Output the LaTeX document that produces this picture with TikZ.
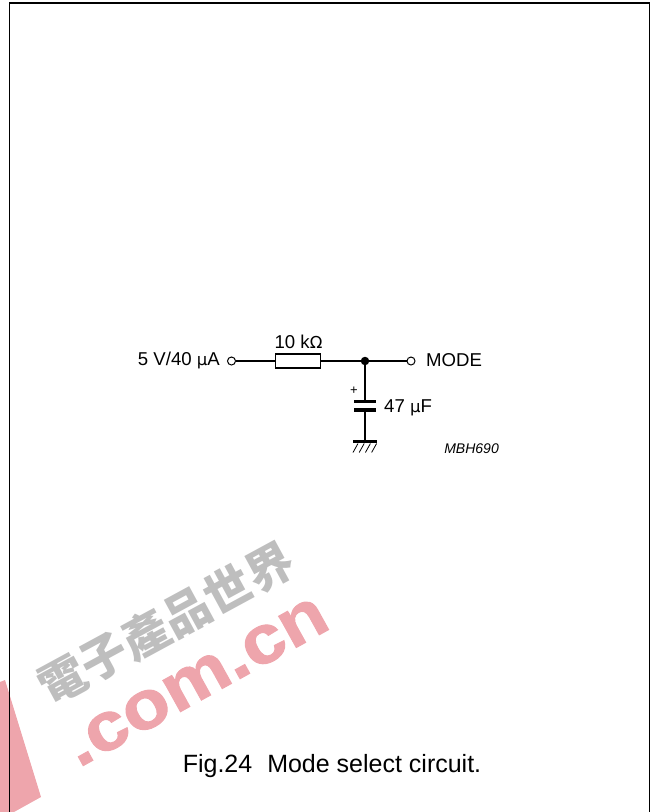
\documentclass[tikz,border=0pt]{standalone}
\usepackage{fontspec}
\setmainfont{Liberation Sans}
\newfontfamily\cjkwm{Noto Sans CJK TC}
\newfontfamily\symf{DejaVu Sans}
\newfontfamily\wmb{Liberation Sans}[UprightFont=*,BoldFeatures={FakeBold=1.5}]
\definecolor{wmpink}{RGB}{238,165,172}
\definecolor{wmgray}{RGB}{190,190,190}
\newcommand{\muu}{{\symf\fontsize{16.5pt}{20pt}\selectfont µ}}
\newcommand{\ohm}{{\symf\fontsize{16.5pt}{20pt}\selectfont Ω}}
\tikzset{
  wire/.style={line width=1.2pt,black},
  plate/.style={line width=3.2pt,black},
  term/.style={circle,draw=black,line width=1pt,fill=white,minimum size=8pt,inner sep=0pt},
  junc/.style={circle,fill=black,minimum size=8.5pt,inner sep=0pt},
  lbl/.style={inner sep=0pt,font=\fontsize{18.6pt}{22pt}\selectfont},
  res/.style={draw=black,line width=1.2pt,fill=white,minimum width=45pt,minimum height=14pt,inner sep=0pt},
}
\begin{document}
\begin{tikzpicture}[x=1pt,y=-1pt]
\useasboundingbox (0,0) rectangle (651,812);
% watermark
\fill[wmpink] (0,682) -- (5,680) -- (41,797) -- (14,812) -- (0,812) -- cycle;
\node[text=wmpink,rotate=29,font=\wmb\fontsize{68pt}{68pt}\selectfont\bfseries,inner sep=0pt,xscale=1.13] (wmcom) at (197,682) {.com.cn};
\node[text=wmgray,rotate=28.5,font=\cjkwm\fontsize{47pt}{47pt}\selectfont\bfseries,inner sep=0pt] (wmcn) at (166,623) {電子產品世界};
% frame
\draw[line width=1.5pt,black] (9.5,813) -- (9.5,3.2) -- (649.5,3.2) -- (649.5,813);
% circuit
\node[term] (in) at (231.5,361) {};
\node[res] (r) at (298,361) {};
\node[junc] (j) at (365,361) {};
\node[term] (out) at (411,361) {};
\coordinate (capt) at (365,401.5);
\coordinate (capb) at (365,410);
\coordinate (gnd) at (365,441);
\draw[wire] (in) -- (r);
\draw[wire] (r) -- (j) -- (out);
\draw[wire] (j) -- (capt);
\draw[wire] (capb) -- (gnd);
\draw[plate] (354,401.5) -- (376,401.5);
\draw[plate] (354,410) -- (376,410);
\draw[plate] (353,441.5) -- (377,441.5);
\foreach \i in {0,1,2,3} \draw[line width=.8pt] ({358+\i*6.2},443.5) -- ({353+\i*6.2},452.5);
\node[lbl,anchor=east] (vin) at (220,360) {5 V/40 \muu A};
\node[lbl] (rv) at (298.5,342) {10 k\ohm};
\node[lbl,anchor=west] (mode) at (426,360) {MODE};
\node[lbl,anchor=west] (cv) at (384,407.5) {47 \muu F};
\node[inner sep=0pt,font=\fontsize{13pt}{15pt}\selectfont] (plus) at (354,390.5) {+};
\node[inner sep=0pt,anchor=east,font=\fontsize{14pt}{16pt}\selectfont\itshape] (code) at (499,449) {MBH690};
\node[inner sep=0pt,font=\fontsize{25pt}{29pt}\selectfont] (cap) at (332,766) {Fig.24\hspace{0.6em}Mode select circuit.};
\end{tikzpicture}
\end{document}
